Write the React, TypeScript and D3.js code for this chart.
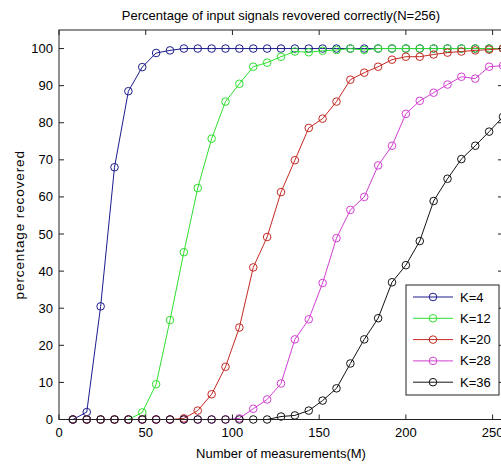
import React from "react";
import * as d3 from "d3";

// measurement counts M (x values)
const measurements = [8, 16, 24, 32, 40, 48, 56, 64, 72, 80, 88, 96, 104, 112, 120, 128,
  136, 144, 152, 160, 168, 176, 184, 192, 200, 208, 216, 224, 232, 240, 248, 256];

const k4 = [0, 2, 30.5, 68, 88.5, 95, 98.8, 99.5, 100, 100, 100, 100, 100, 100, 100, 100,
  100, 100, 100, 100, 100, 100, 100, 100, 100, 100, 100, 100, 100, 100, 100, 100];
const k12 = [0, 0, 0, 0, 0, 1.9, 9.5, 26.8, 45.1, 62.4, 75.7, 85.7, 90.5, 95.1, 96.2, 97.8,
  99.2, 99.0, 99.4, 99.6, 100, 99.6, 100, 100, 100, 100, 100, 100, 100, 100, 100, 100];
const k20 = [0, 0, 0, 0, 0, 0, 0, 0, 0.3, 2.4, 6.8, 14.2, 24.8, 41.0, 49.2, 61.3,
  69.9, 78.6, 81.1, 85.7, 91.6, 93.5, 95.1, 97.0, 97.8, 97.8, 98.4, 98.9, 99.2, 99.5, 99.7, 100];
const k28 = [0, 0, 0, 0, 0, 0, 0, 0, 0, 0, 0, 0, 0.3, 2.9, 5.4, 9.7,
  21.6, 27.0, 36.8, 48.9, 56.5, 60.0, 68.5, 73.8, 82.4, 85.9, 88.1, 90.3, 92.4, 91.9, 95.1, 95.4];
const k36 = [0, 0, 0, 0, 0, 0, 0, 0, 0, 0, 0, 0, 0, 0, 0, 0.8,
  1.1, 2.4, 5.1, 8.4, 15.1, 21.6, 27.3, 37.0, 41.6, 48.1, 58.9, 64.9, 70.2, 73.8, 77.6, 81.6];

const seriesNames = ["K=4", "K=12", "K=20", "K=28", "K=36"];
const seriesValues = [k4, k12, k20, k28, k36];
const seriesColors = ["#1c1c8c", "#2ee02e", "#c42a24", "#d23fd2", "#141414"];

const xTicks = [0, 50, 100, 150, 200, 250];
const yTicks = [0, 10, 20, 30, 40, 50, 60, 70, 80, 90, 100];

const W = 501, H = 465;
const font = "'Liberation Sans', Arial, sans-serif";

export default function App() {
  const x = d3.scaleLinear().domain([0, 256]).range([59, 503]);
  const y = d3.scaleLinear().domain([0, 105]).range([419.5, 30]);
  const line = d3.line<number>()
    .x((d, i) => x(measurements[i]))
    .y(d => y(d));

  const left = x(0), right = x(256), top = y(105), bottom = y(0);
  const tl = 5;

  return (
    <svg width={W} height={H} style={{ position: "absolute", left: 0, top: 0, background: "#fff" }}
      fontFamily={font}>
      <rect x={0} y={0} width={W} height={H} fill="#fff" />
      <text x={(left + right) / 2} y={20} textAnchor="middle" fontSize={13}>
        Percentage of input signals revovered correctly(N=256)
      </text>

      {seriesValues.map((vals, s) => (
        <g key={s}>
          <path d={line(vals) || ""} fill="none" stroke={seriesColors[s]} strokeWidth={1} />
          {vals.map((v, i) => (
            <circle key={i} cx={x(measurements[i])} cy={y(v)} r={3.8}
              fill="none" stroke={seriesColors[s]} strokeWidth={1} />
          ))}
        </g>
      ))}

      {/* axes box */}
      <rect x={left} y={top} width={right - left} height={bottom - top}
        fill="none" stroke="#222" strokeWidth={1} />
      {xTicks.map(t => (
        <g key={"x" + t}>
          <line x1={x(t)} x2={x(t)} y1={bottom} y2={bottom - tl} stroke="#222" />
          <line x1={x(t)} x2={x(t)} y1={top} y2={top + tl} stroke="#222" />
          <text x={x(t)} y={437} textAnchor="middle" fontSize={13}>{t}</text>
        </g>
      ))}
      {yTicks.map(t => (
        <g key={"y" + t}>
          <line x1={left} x2={left + tl} y1={y(t)} y2={y(t)} stroke="#222" />
          <line x1={right} x2={right - tl} y1={y(t)} y2={y(t)} stroke="#222" />
          <text x={left - 6} y={y(t) + 4.5} textAnchor="end" fontSize={13}>{t}</text>
        </g>
      ))}
      <text x={(left + right) / 2} y={458} textAnchor="middle" fontSize={13}>
        Number of measurements(M)
      </text>
      <text transform={`translate(24,${(top + bottom) / 2}) rotate(-90)`} textAnchor="middle"
        fontSize={13.5} letterSpacing={0.9}>
        percentage recovered
      </text>

      {/* legend */}
      <g>
        <rect x={406} y={285} width={93} height={110} fill="#fff" stroke="#222" strokeWidth={1} />
        {seriesNames.map((name, s) => {
          const ly = 297 + s * 21.3;
          return (
            <g key={name}>
              <line x1={413} x2={453} y1={ly} y2={ly} stroke={seriesColors[s]} strokeWidth={1} />
              <circle cx={433} cy={ly} r={3.8} fill="none" stroke={seriesColors[s]} strokeWidth={1} />
              <text x={460} y={ly + 4.5} fontSize={13}>{name}</text>
            </g>
          );
        })}
      </g>
    </svg>
  );
}
